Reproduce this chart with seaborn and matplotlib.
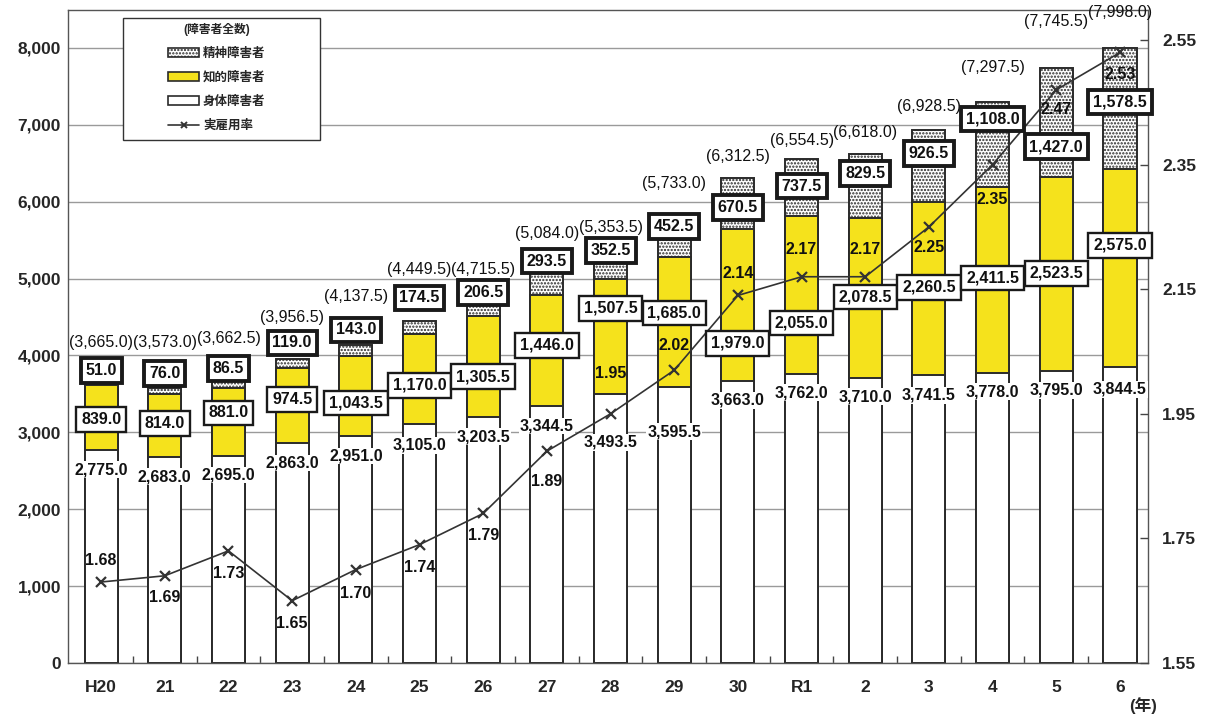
import numpy as np
import pandas as pd
import matplotlib
matplotlib.use("Agg")
import matplotlib.pyplot as plt
import seaborn as sns
from matplotlib.patches import Patch, Rectangle
from matplotlib.lines import Line2D
from matplotlib.ticker import FuncFormatter

# ---- data (単位: 人) ----
years = ["H20", "21", "22", "23", "24", "25", "26", "27", "28", "29",
         "30", "R1", "2", "3", "4", "5", "6"]
physical = [2775.0, 2683.0, 2695.0, 2863.0, 2951.0, 3105.0, 3203.5, 3344.5,
            3493.5, 3595.5, 3663.0, 3762.0, 3710.0, 3741.5, 3778.0, 3795.0, 3844.5]
intellectual = [839.0, 814.0, 881.0, 974.5, 1043.5, 1170.0, 1305.5, 1446.0,
                1507.5, 1685.0, 1979.0, 2055.0, 2078.5, 2260.5, 2411.5, 2523.5, 2575.0]
mental = [51.0, 76.0, 86.5, 119.0, 143.0, 174.5, 206.5, 293.5,
          352.5, 452.5, 670.5, 737.5, 829.5, 926.5, 1108.0, 1427.0, 1578.5]
rate = [1.68, 1.69, 1.73, 1.65, 1.70, 1.74, 1.79, 1.89, 1.95, 2.02,
        2.14, 2.17, 2.17, 2.25, 2.35, 2.47, 2.53]

# label nudges in pixels (positive = upward)
total_dy = [39, 46, 43, 41, 48, 51, 31, 39, 24, 39, 21, 19, 22, 24, 34, 46, 36]
mental_dy = [11, 15, 13, 16, 15, 23, 8, 11, 1, -4, -30, -27, -19, -23, -17, -79, -54]
intel_dy = [-2, 2, 9, 6, -7, -6, -10, 5, 28, 9, -38, -28, 1, 1, 2, 1, 23]
phys_dy = [-20, -20, -19, -20, -20, -21, -20, -20, -48, -45, -19, -19, -19, -20, -19, -19, -22]
rate_dy = [22, -22, -23, -23, -24, -23, -22, -30, 40, 25, 22, 27, 27, -21, -35, -20, -22]

df = pd.DataFrame({"year": years, "physical": physical,
                   "intellectual": intellectual, "mental": mental, "rate": rate})
df["phys_int"] = df["physical"] + df["intellectual"]
df["total"] = df["phys_int"] + df["mental"]

sns.set_theme(style="white")
plt.rcParams["font.family"] = ["Liberation Sans", "Noto Sans CJK JP"]
plt.rcParams["hatch.linewidth"] = 1.1

W, H = 1205, 719
EDGE = "#2a2a2a"
YELLOW = "#F5E21C"
PX = 72 / 100  # points per pixel
NUM = 11.5     # size of the value labels

fig = plt.figure(figsize=(W / 100, H / 100), dpi=100)
ax = fig.add_axes([68 / W, 1 - 663 / H, (1148 - 68) / W, (663 - 10) / H])

bar_kw = dict(order=years, width=0.52, saturation=1, edgecolor=EDGE, linewidth=1.4, ax=ax)
sns.barplot(data=df, x="year", y="total", color="white", hatch=".....", **bar_kw)
sns.barplot(data=df, x="year", y="phys_int", color=YELLOW, **bar_kw)
sns.barplot(data=df, x="year", y="physical", color="white", **bar_kw)

n = len(years)
xlim = (-0.52, 16.44)
ax.set_xlim(*xlim)
ax.set_ylim(0, 8494)
ax.set_yticks(np.arange(0, 8001, 1000))
ax.yaxis.set_major_formatter(FuncFormatter(lambda v, p: f"{v:,.0f}"))
ax.set_axisbelow(True)
ax.grid(axis="y", color="#9a9a9a", linewidth=1.0)
ax.grid(axis="x", visible=False)
ax.set_xlabel("")
ax.set_ylabel("")
ax.set_xticks(range(n))
ax.set_xticklabels(years)
ax.set_xticks(np.arange(n - 1) + 0.5, minor=True)
ax.tick_params(axis="x", which="major", length=0, pad=12, labelsize=12.5)
ax.tick_params(axis="x", which="minor", direction="in", length=5, width=1, color="#444", bottom=True)
ax.tick_params(axis="y", length=0, pad=5, labelsize=12.5)
for lab in ax.get_xticklabels() + ax.get_yticklabels():
    lab.set_fontweight("bold")
for s in ax.spines.values():
    s.set_color("#555")
    s.set_linewidth(1.0)

# employment rate on the secondary axis
ax2 = ax.twinx()
sns.lineplot(x=np.arange(n), y=df["rate"], ax=ax2, color="#333333", linewidth=1.2,
             marker="x", markersize=7, markeredgewidth=1.6, markeredgecolor="#333333")
ax2.set_ylim(1.55, 1.55 + 653 / 623)
ax2.set_yticks([1.55, 1.75, 1.95, 2.15, 2.35, 2.55])
ax2.yaxis.set_major_formatter(FuncFormatter(lambda v, p: f"{v:.2f}"))
ax2.tick_params(axis="y", direction="in", length=6, width=1, color="#444", pad=10, labelsize=12.5)
for lab in ax2.get_yticklabels():
    lab.set_fontweight("bold")
ax2.set_ylabel("")
ax2.grid(False)
ax2.set_xlim(*xlim)
for s in ax2.spines.values():
    s.set_visible(False)

data_tr = ax.transData
rate_tr = ax2.transData
for i in range(n):
    p, it, m = physical[i], intellectual[i], mental[i]
    tot = p + it + m
    # total in parentheses
    ax2.annotate(f"({tot:,.1f})", xy=(i, tot), xycoords=data_tr,
                 xytext=(0, total_dy[i] * PX), textcoords="offset points",
                 ha="center", va="center", fontsize=11.5, color="#111")
    # mental (thick box)
    ax2.annotate(f"{m:,.1f}", xy=(i, tot), xycoords=data_tr,
                 xytext=(0, mental_dy[i] * PX), textcoords="offset points",
                 ha="center", va="center", fontsize=NUM, fontweight="bold", color="#111",
                 bbox=dict(boxstyle="square,pad=0.3", fc="white", ec="#1a1a1a", lw=2.8),
                 zorder=6)
    # intellectual (thin box)
    ax2.annotate(f"{it:,.1f}", xy=(i, p + it / 2), xycoords=data_tr,
                 xytext=(0, intel_dy[i] * PX), textcoords="offset points",
                 ha="center", va="center", fontsize=NUM, fontweight="bold", color="#111",
                 bbox=dict(boxstyle="square,pad=0.3", fc="white", ec="#1a1a1a", lw=1.7),
                 zorder=5)
    # physical
    ax2.annotate(f"{p:,.1f}", xy=(i, p), xycoords=data_tr,
                 xytext=(0, phys_dy[i] * PX), textcoords="offset points",
                 ha="center", va="center", fontsize=NUM, fontweight="bold", color="#111",
                 bbox=dict(boxstyle="square,pad=0.05", fc="white", ec="none"),
                 zorder=4)
    # rate
    ax2.annotate(f"{rate[i]:.2f}", xy=(i, rate[i]), xycoords=rate_tr,
                 xytext=(0, rate_dy[i] * PX), textcoords="offset points",
                 ha="center", va="center", fontsize=NUM, fontweight="bold", color="#111",
                 zorder=4)

# legend
fig.add_artist(Rectangle((123 / W, 1 - 140 / H), 197 / W, 122 / H, transform=fig.transFigure,
                         facecolor="white", edgecolor="#333", linewidth=1.0, zorder=5))
handles = [
    Patch(facecolor="white", edgecolor=EDGE, hatch=".....", linewidth=1.2),
    Patch(facecolor=YELLOW, edgecolor=EDGE, linewidth=1.2),
    Patch(facecolor="white", edgecolor=EDGE, linewidth=1.2),
    Line2D([], [], color="#333", linewidth=1.2, marker="x", markersize=5, markeredgewidth=1.4),
]
labels = ["精神障害者", "知的障害者", "身体障害者", "実雇用率"]
leg = fig.legend(handles, labels, loc="upper left", bbox_to_anchor=(168 / W, 1 - 23 / H),
                 frameon=False, title="(障害者全数)", borderpad=0, borderaxespad=0,
                 handlelength=2.5, handleheight=0.7, handletextpad=0.3, labelspacing=0.95,
                 prop=dict(size=9, weight="bold"),
                 title_fontproperties=dict(size=8.5, weight="bold"))
leg.set_zorder(6)

fig.text(1143 / W, 1 - 706 / H, "(年)", ha="center", va="center",
         fontsize=12, fontweight="bold")

fig.savefig("out.png", dpi=100, facecolor="white")
